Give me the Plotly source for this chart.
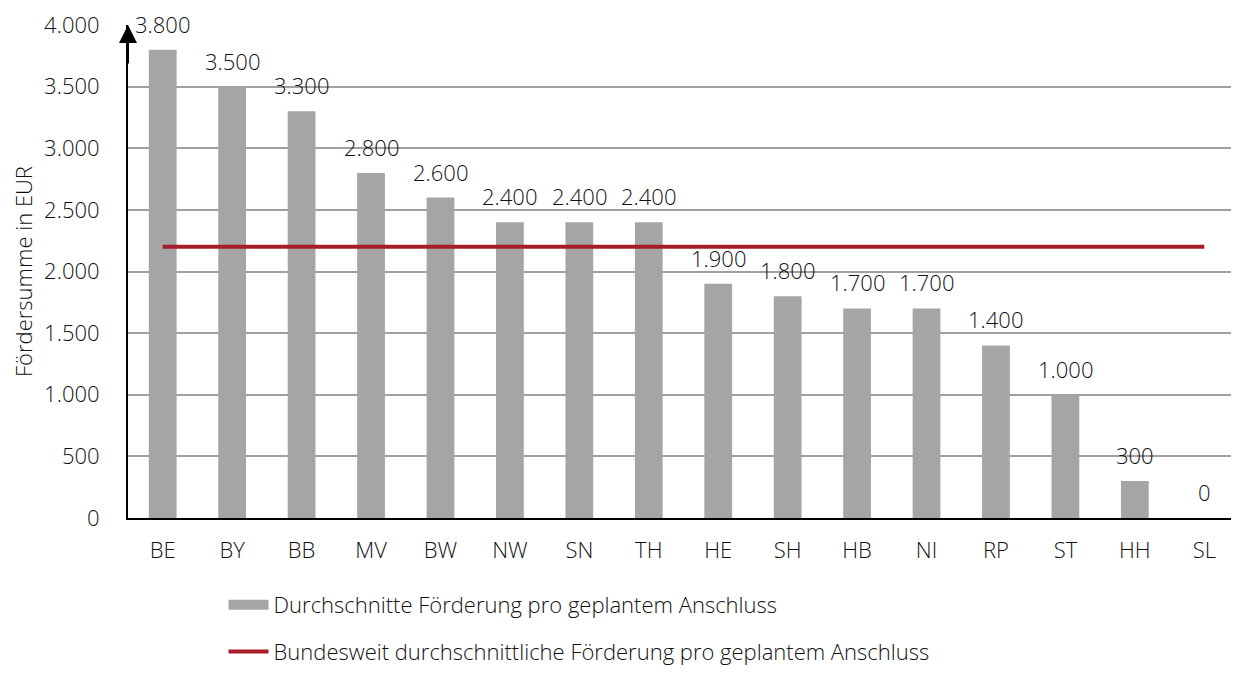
import plotly.graph_objects as go

# Bundesländer und Fördersummen (EUR)
laender = ["BE", "BY", "BB", "MV", "BW", "NW", "SN", "TH", "HE", "SH", "HB", "NI", "RP", "ST", "HH", "SL"]
foerderung = [3800, 3500, 3300, 2800, 2600, 2400, 2400, 2400, 1900, 1800, 1700, 1700, 1400, 1000, 300, 0]
bundesschnitt = [2200] * len(laender)
y_ticks = [0, 500, 1000, 1500, 2000, 2500, 3000, 3500, 4000]

FONT = "Open Sans"
FS = 22
W = 300
TXT = "#111111"
GRAU = "#A5A5A5"
ROT = "#A61C28"

fig = go.Figure()

fig.add_trace(go.Bar(
    x=laender, y=foerderung,
    marker=dict(color=GRAU, line=dict(width=0)),
    width=0.4,
    showlegend=False,
))

# Legenden-Eintrag für die Balken (breites Rechteck wie im Original)
fig.add_trace(go.Scatter(
    x=[None], y=[None], mode="lines",
    name="Durchschnitte Förderung pro geplantem Anschluss",
    line=dict(color=GRAU, width=14),
    legendgroup="a",
))

fig.add_trace(go.Scatter(
    x=laender, y=bundesschnitt,
    mode="lines",
    name="Bundesweit durchschnittliche Förderung pro geplantem Anschluss",
    line=dict(color=ROT, width=4),
    legendgroup="b",
))

# Datenbeschriftungen
for land, wert in zip(laender, foerderung):
    fig.add_annotation(
        x=land, y=wert, text=f"{wert:,}".replace(",", "."),
        showarrow=False, yanchor="bottom", yshift=9,
        font=dict(size=FS, family=FONT, color=TXT, weight=W),
    )

# Pfeil an der y-Achse
fig.add_annotation(
    x=0, xref="paper", y=4000, yref="y",
    ax=0, ay=40, axref="pixel", ayref="pixel",
    showarrow=True, arrowhead=2, arrowsize=1.8, arrowwidth=2, arrowcolor="black",
    text="",
)

# Achsentitel
fig.add_annotation(
    x=-0.095, xref="paper", y=0.5, yref="paper",
    text="Fördersumme in EUR", textangle=-90,
    showarrow=False, xanchor="center", yanchor="middle",
    font=dict(size=FS, family=FONT, color=TXT, weight=W),
)

# Seite hat 8px Rand -> Figur entsprechend kleiner
fig.update_layout(
    width=1231, height=665,
    paper_bgcolor="white", plot_bgcolor="white",
    font=dict(family=FONT, size=FS, color=TXT, weight=W),
    separators=",.",
    margin=dict(l=120, r=0, t=17, b=154),
    bargap=0.6,
    showlegend=True,
    legend=dict(
        orientation="v", x=0.086, xanchor="left", y=-0.135, yanchor="top",
        traceorder="grouped", tracegroupgap=15,
        font=dict(size=FS, family=FONT, color=TXT, weight=W),
        itemwidth=40,
    ),
    xaxis=dict(
        type="category", automargin=False,
        showline=True, linecolor="black", linewidth=2,
        ticks="", showgrid=False, ticklabelstandoff=12,
        tickfont=dict(size=FS, weight=W),
    ),
    yaxis=dict(
        range=[0, 4000], automargin=False,
        tickvals=y_ticks, tickformat=",d",
        showline=True, linecolor="black", linewidth=2,
        showgrid=True, gridcolor="#A0A0A0", gridwidth=1.5,
        zeroline=False, ticks="", ticklabelstandoff=22,
        tickfont=dict(size=FS, weight=W),
    ),
)

fig.write_html("out.html")
